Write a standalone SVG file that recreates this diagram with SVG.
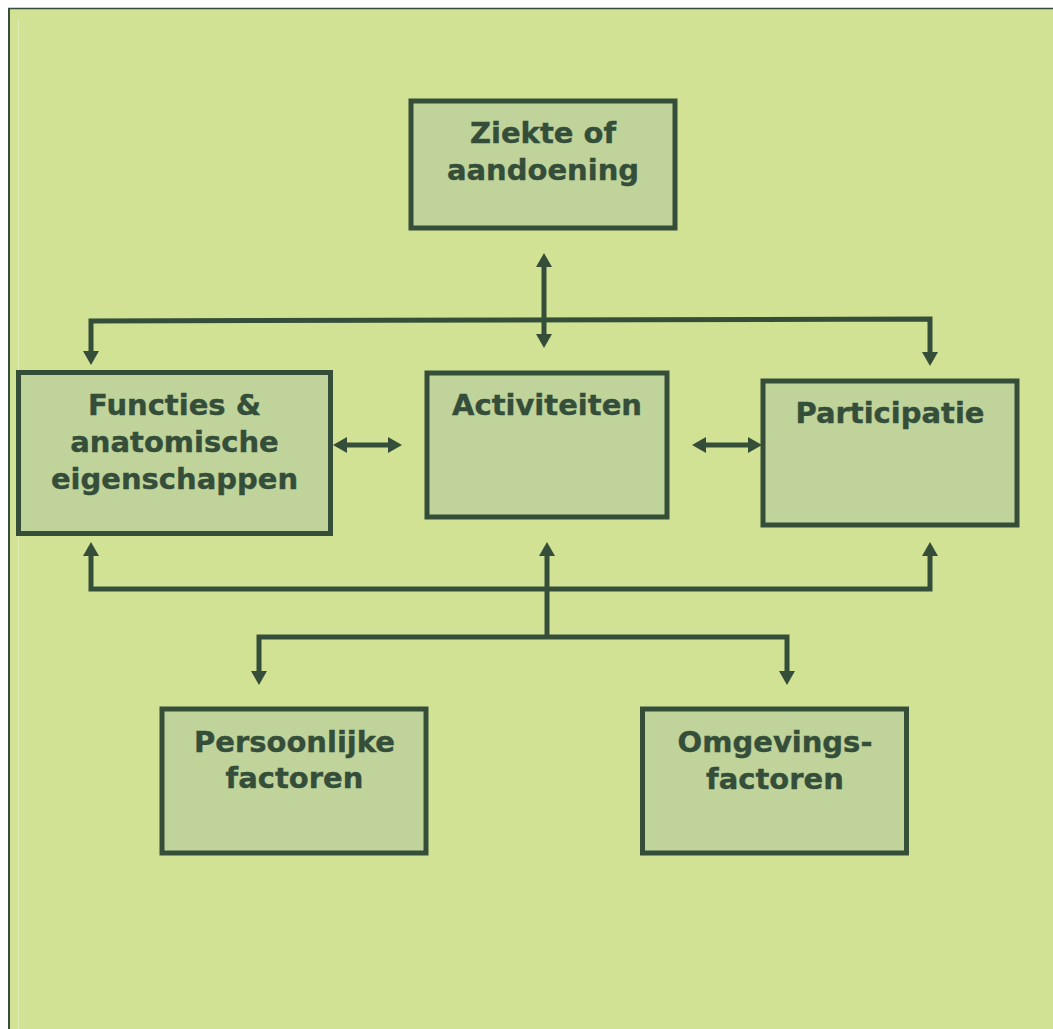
<svg xmlns="http://www.w3.org/2000/svg" width="1053" height="1029" viewBox="0 0 1053 1029">
  <style>
    .box { fill: #bfd39b; stroke: #344e39; stroke-width: 5; }
    .lbl { font-family: "DejaVu Sans", Verdana, sans-serif; font-weight: bold; font-size: 29px; fill: #344e39; stroke: #344e39; stroke-width: 0.4; text-anchor: middle; }
    .conn { fill: none; stroke: #344e39; stroke-width: 5; stroke-linejoin: miter; }
  </style>
  <defs>
    <marker id="arrow" viewBox="0 0 14 16" markerWidth="14" markerHeight="16" refX="4" refY="8" markerUnits="userSpaceOnUse" orient="auto-start-reverse">
      <path d="M0,0 L14,8 L0,16 z" fill="#344e39"/>
    </marker>
  </defs>
  <rect x="0" y="0" width="1053" height="1029" fill="#ffffff"/>
  <rect x="8" y="8" width="1045" height="1021" fill="#d2e294"/>
  <line x1="8" y1="8.5" x2="1053" y2="8.5" stroke="#344e39" stroke-width="1.5"/>
  <line x1="9" y1="8" x2="9" y2="1029" stroke="#344e39" stroke-width="2"/>
  <line x1="18.5" y1="19" x2="18.5" y2="1029" stroke="#e2ecb6" stroke-width="1"/>

  <g id="connectors">
    <path class="conn" d="M91,355 L91,321 L930,319 L930,356" marker-start="url(#arrow)" marker-end="url(#arrow)"/>
    <path class="conn" d="M544,263 L544,338" marker-start="url(#arrow)" marker-end="url(#arrow)"/>
    <path class="conn" d="M343,445 L392,445" marker-start="url(#arrow)" marker-end="url(#arrow)"/>
    <path class="conn" d="M702,445 L752,445" marker-start="url(#arrow)" marker-end="url(#arrow)"/>
    <path class="conn" d="M91,552 L91,589 L930,589 L930,552" marker-start="url(#arrow)" marker-end="url(#arrow)"/>
    <path class="conn" d="M547,637 L547,552" marker-end="url(#arrow)"/>
    <path class="conn" d="M259,675 L259,637 L787,637 L787,675" marker-start="url(#arrow)" marker-end="url(#arrow)"/>
  </g>

  <g id="node-ziekte">
    <rect class="box" x="411" y="101" width="264" height="127"/>
    <text class="lbl" x="543" y="143">Ziekte of</text>
    <text class="lbl" x="543" y="180">aandoening</text>
  </g>
  <g id="node-functies">
    <rect class="box" x="18.5" y="372.5" width="312" height="161"/>
    <text class="lbl" x="174.5" y="415">Functies &amp;</text>
    <text class="lbl" x="174.5" y="452">anatomische</text>
    <text class="lbl" x="174.5" y="489">eigenschappen</text>
  </g>
  <g id="node-activiteiten">
    <rect class="box" x="427" y="373" width="240" height="144"/>
    <text class="lbl" x="547" y="415">Activiteiten</text>
  </g>
  <g id="node-participatie">
    <rect class="box" x="763" y="381" width="254" height="144"/>
    <text class="lbl" x="890" y="423">Participatie</text>
  </g>
  <g id="node-persoonlijke">
    <rect class="box" x="162" y="709" width="264" height="144"/>
    <text class="lbl" x="294.5" y="752">Persoonlijke</text>
    <text class="lbl" x="294.5" y="788">factoren</text>
  </g>
  <g id="node-omgevings">
    <rect class="box" x="642.5" y="709" width="264" height="144"/>
    <text class="lbl" x="775" y="752">Omgevings-</text>
    <text class="lbl" x="775" y="789">factoren</text>
  </g>
</svg>
